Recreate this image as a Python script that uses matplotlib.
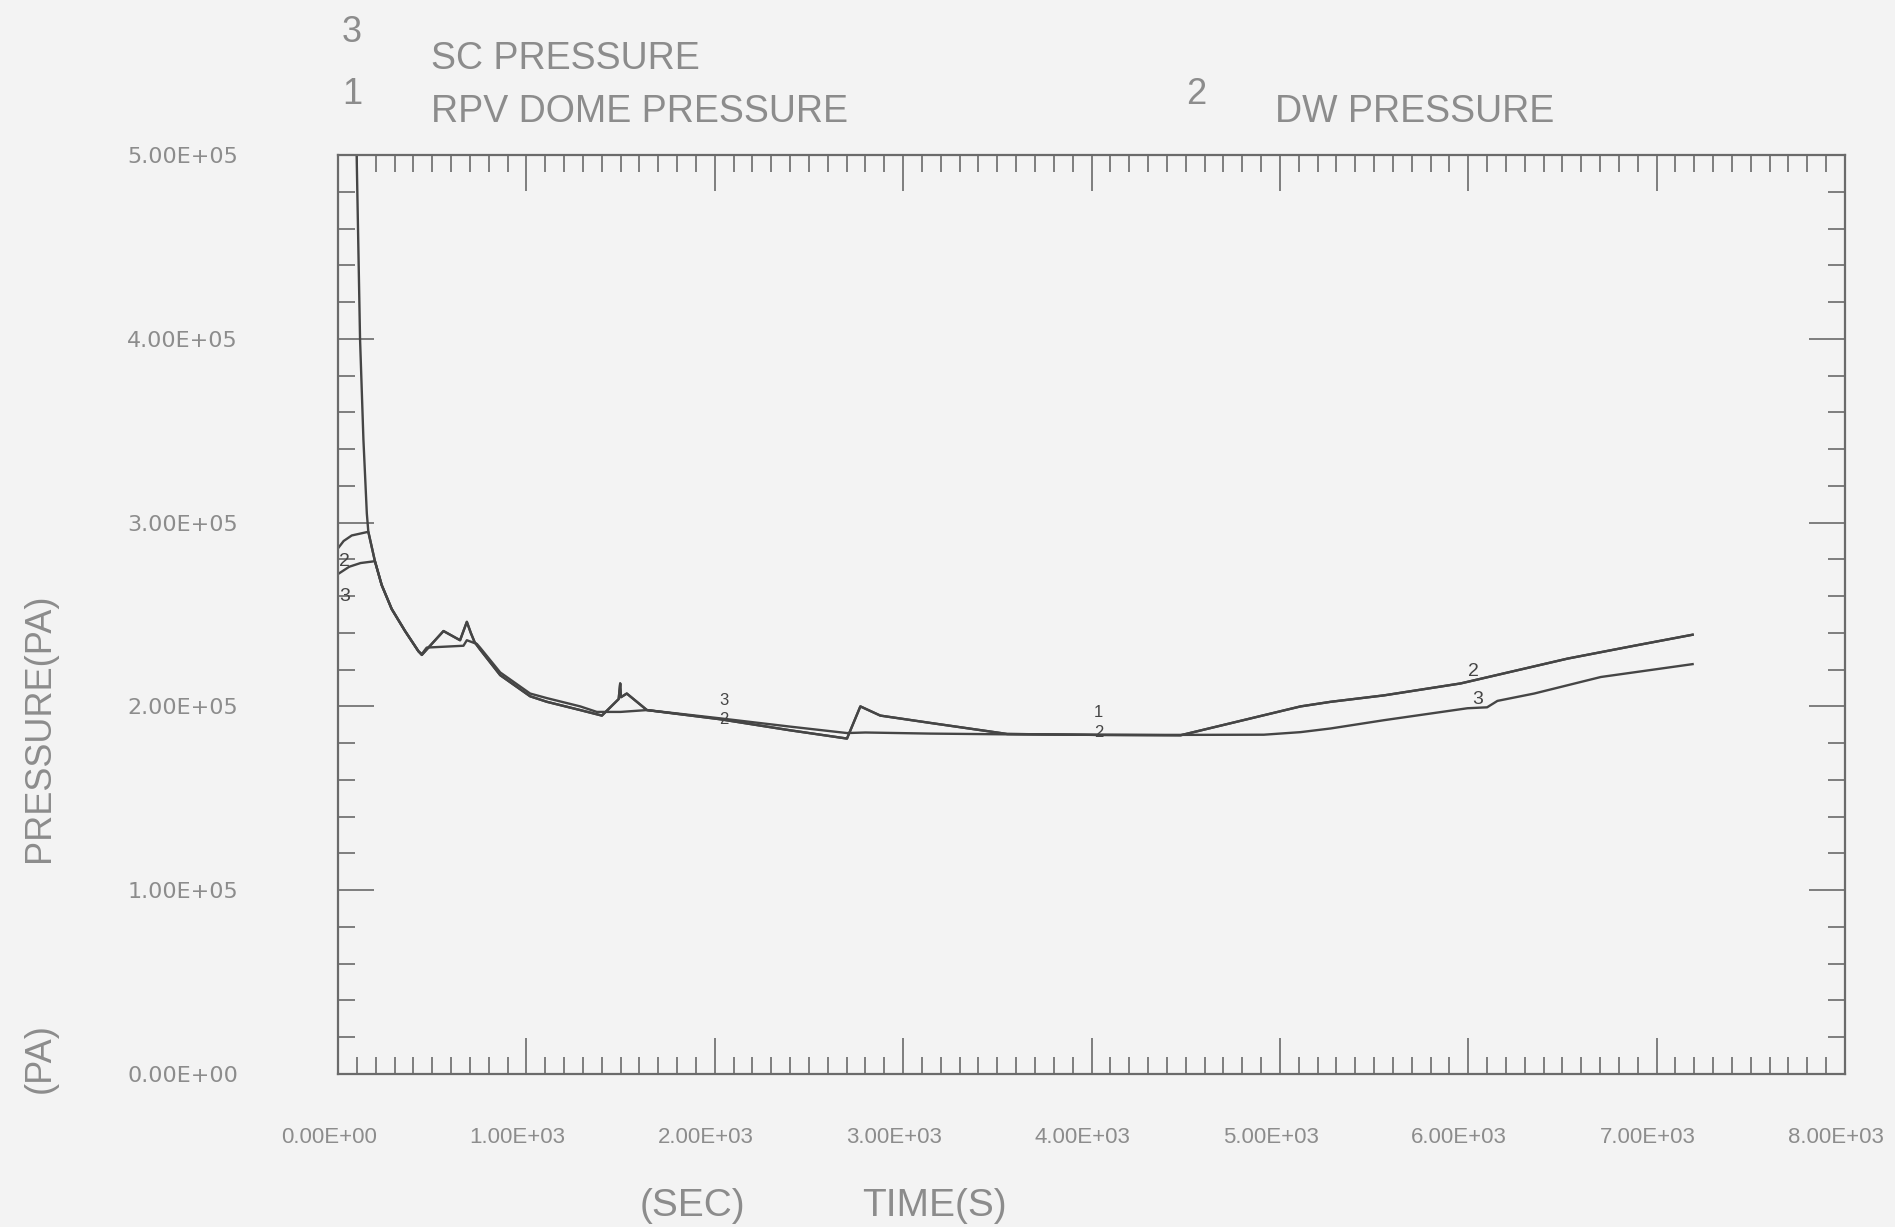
import matplotlib
matplotlib.use('Agg')
import matplotlib.pyplot as plt
from matplotlib.ticker import MultipleLocator, FuncFormatter
from matplotlib.transforms import ScaledTranslation

# ---- data (time in s, pressure in Pa) ----
rpv_t = [90, 99, 117, 135, 153, 161, 196, 232, 285, 356, 427, 445, 480, 560, 648,
         684, 705, 725, 754, 861, 1020, 1109, 1286, 1401, 1490, 1498, 1502, 1533,
         1640, 2029, 2400, 2702, 2773, 2879, 3145, 3552, 4030, 4473, 5110, 5270,
         5553, 5960, 6527, 6881, 7191]
rpv_p = [6.0e5, 5.0e5, 4.0e5, 3.45e5, 3.05e5, 2.95e5, 2.79e5, 2.66e5, 2.53e5, 2.41e5,
         2.30e5, 2.28e5, 2.32e5, 2.41e5, 2.36e5, 2.46e5, 2.40e5, 2.35e5, 2.31e5, 2.17e5,
         2.055e5, 2.025e5, 1.98e5, 1.95e5, 2.04e5, 2.125e5, 2.05e5, 2.07e5, 1.98e5,
         1.93e5, 1.87e5, 1.825e5, 2.0e5, 1.95e5, 1.91e5, 1.85e5, 1.845e5, 1.843e5,
         2.0e5, 2.025e5, 2.06e5, 2.125e5, 2.26e5, 2.33e5, 2.39e5]

dw_t = [0, 30, 73, 161, 196, 232, 285, 356, 427, 445, 480, 560, 648, 684, 705, 725,
        754, 861, 1020, 1109, 1286, 1401, 1490, 1498, 1502, 1533, 1640, 2029, 2400,
        2702, 2773, 2879, 3145, 3552, 4030, 4473, 5110, 5270, 5553, 5960, 6527, 6881,
        7191]
dw_p = [2.86e5, 2.90e5, 2.93e5, 2.95e5, 2.79e5, 2.66e5, 2.53e5, 2.41e5, 2.30e5,
        2.28e5, 2.32e5, 2.41e5, 2.36e5, 2.46e5, 2.40e5, 2.35e5, 2.31e5, 2.17e5,
        2.055e5, 2.025e5, 1.98e5, 1.95e5, 2.04e5, 2.125e5, 2.05e5, 2.07e5, 1.98e5,
        1.93e5, 1.87e5, 1.825e5, 2.0e5, 1.95e5, 1.91e5, 1.85e5, 1.845e5, 1.843e5,
        2.0e5, 2.025e5, 2.06e5, 2.125e5, 2.26e5, 2.33e5, 2.39e5]

sc_t = [0, 60, 120, 196, 232, 285, 356, 427, 445, 471, 666, 684, 737, 754, 861, 1020,
        1109, 1286, 1374, 1500, 1640, 2029, 2400, 2702, 2800, 3145, 3552, 4030, 4473,
        4915, 5110, 5270, 5553, 5996, 6100, 6155, 6350, 6704, 7191]
sc_p = [2.72e5, 2.76e5, 2.78e5, 2.79e5, 2.66e5, 2.53e5, 2.41e5, 2.30e5, 2.285e5,
        2.32e5, 2.33e5, 2.36e5, 2.34e5, 2.32e5, 2.185e5, 2.07e5, 2.045e5, 2.0e5,
        1.97e5, 1.97e5, 1.98e5, 1.935e5, 1.89e5, 1.855e5, 1.858e5, 1.852e5, 1.848e5,
        1.845e5, 1.845e5, 1.846e5, 1.86e5, 1.88e5, 1.925e5, 1.99e5, 1.995e5, 2.03e5,
        2.07e5, 2.16e5, 2.23e5]

# curve id symbols drawn along the lines by the plotter
mark_txt = ['2', '3', '3', '2', '1', '2', '2', '3']
mark_t = [35, 35, 2047, 2047, 4037, 4037, 6029, 6050]
mark_p = [2.79e5, 2.60e5, 2.03e5, 1.93e5, 1.965e5, 1.86e5, 2.19e5, 2.04e5]
mark_size = [14, 14, 12, 12, 12, 12, 14, 14]

W, H = 1895, 1227
paper = '#f3f3f3'
ink = '#8c8c8c'
line_c = '#454545'
sans = ['Liberation Sans', 'DejaVu Sans']

fig = plt.figure(figsize=(W / 100, H / 100), dpi=100, facecolor=paper)
ax = fig.add_axes([338 / W, 1 - 1074 / H, (1845 - 338) / W, (1074 - 155) / H])
ax.set_facecolor(paper)

for t, p in [(sc_t, sc_p), (dw_t, dw_p), (rpv_t, rpv_p)]:
    ax.plot(t, p, color=line_c, lw=1.7)

for s, t, p, fs in zip(mark_txt, mark_t, mark_p, mark_size):
    ax.text(t, p, s, fontsize=fs, color=line_c, ha='center', va='center', family=sans)

ax.set_xlim(0, 8000)
ax.set_ylim(0, 5e5)
ax.xaxis.set_major_locator(MultipleLocator(1000))
ax.xaxis.set_minor_locator(MultipleLocator(100))
ax.yaxis.set_major_locator(MultipleLocator(1e5))
ax.yaxis.set_minor_locator(MultipleLocator(2e4))
fmt = FuncFormatter(lambda v, pos: '%.2E' % v)
ax.xaxis.set_major_formatter(fmt)
ax.yaxis.set_major_formatter(fmt)

ax.tick_params(which='both', direction='in', top=True, right=True, color='#6a6a6a', width=1.2)
ax.tick_params(which='major', length=26)
ax.tick_params(which='minor', length=12)
ax.tick_params(axis='x', pad=38, labelsize=16, labelcolor=ink)
ax.tick_params(axis='y', pad=72, labelsize=16, labelcolor=ink)
# plotter put the time labels a little left of their ticks
shift = ScaledTranslation(-9 / 100, 0, fig.dpi_scale_trans)
for lab in ax.get_xticklabels():
    lab.set_family(sans)
    lab.set_transform(lab.get_transform() + shift)
for sp in ax.spines.values():
    sp.set_color('#6a6a6a')
    sp.set_linewidth(1.6)

# legend block above the frame (baseline positions in pixels)
def ftext(x, y, s, size):
    fig.text(x / W, 1 - y / H, s, fontsize=size, color=ink, family=sans,
             ha='left', va='baseline')

ftext(342, 42, '3', 26)
ftext(431, 69, 'SC PRESSURE', 27)
ftext(342, 104, '1', 26)
ftext(431, 122, 'RPV DOME PRESSURE', 27)
ftext(1186, 104, '2', 26)
ftext(1275, 122, 'DW PRESSURE', 27)

# axis titles
fig.text(40 / W, 1 - 728 / H, 'PRESSURE(PA)', rotation=90, fontsize=26, color=ink,
         family=sans, ha='center', va='center')
fig.text(40 / W, 1 - 1058 / H, '(PA)', rotation=90, fontsize=26, color=ink,
         family=sans, ha='center', va='center')
fig.text(640 / W, 1 - 1206 / H, '(SEC)', fontsize=28, color=ink, family=sans,
         ha='left', va='center')
fig.text(862 / W, 1 - 1206 / H, 'TIME(S)', fontsize=28, color=ink, family=sans,
         ha='left', va='center')

fig.savefig('out.png', dpi=100, facecolor=paper)
